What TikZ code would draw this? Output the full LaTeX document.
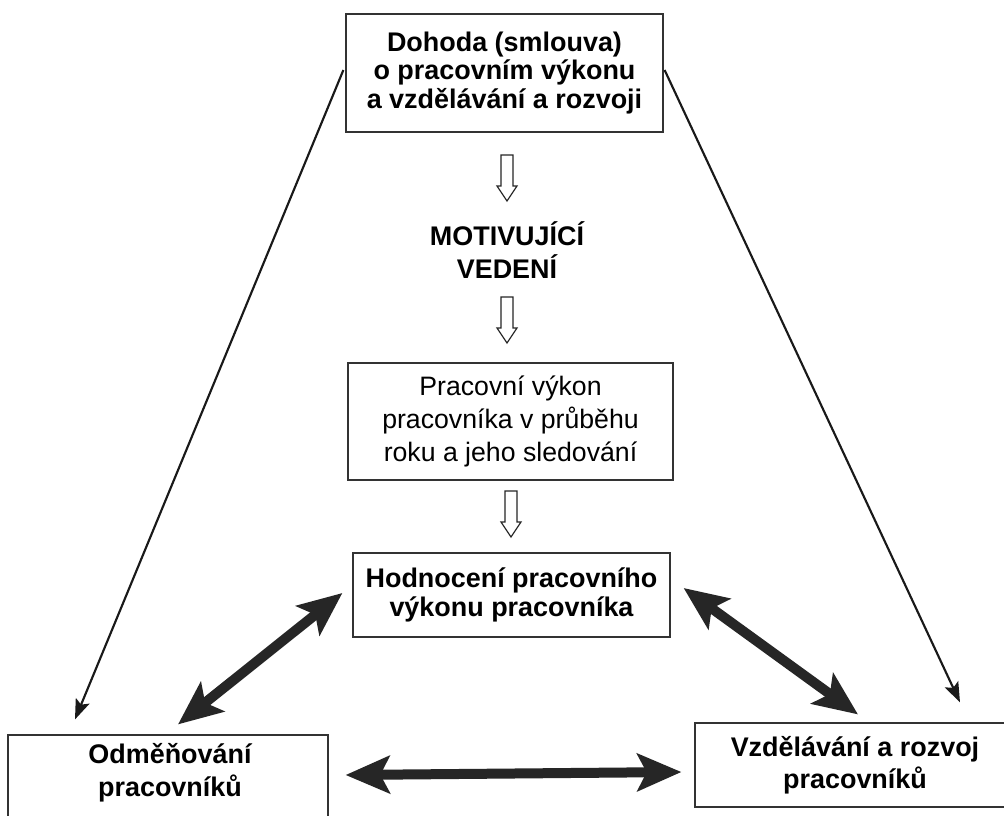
\documentclass[tikz,border=0pt]{standalone}
\usepackage{fontspec}
\setmainfont{Liberation Sans}
\usetikzlibrary{arrows.meta,calc}
\def\pxu{0.75pt}
\tikzset{
  box/.style={draw=black!80, line width=0.9pt, inner sep=0pt, align=center},
  btext/.style={font=\bfseries\fontsize{20.2}{21.5}\selectfont, align=center, inner sep=0pt},
  rtext/.style={font=\fontsize{20}{24.7}\selectfont, align=center, inner sep=0pt},
  thinarrow/.style={draw=black!90, line width=1.6pt, -{Stealth[length=15pt,width=11pt,inset=3pt]}},
  thickarrow/.style={draw=black!85, line width=7.5pt, {Stealth[length=33pt,width=28pt,inset=7pt]}-{Stealth[length=33pt,width=28pt,inset=7pt]}},
  openarr/.pic={\draw[draw=black!85, line width=0.9pt, line join=miter]
     (-6,-23) -- (6,-23) -- (6,8) -- (10,8) -- (0,23) -- (-10,8) -- (-6,8) -- cycle;}
}
\begin{document}
\begin{tikzpicture}[x=0.75pt,y=-0.75pt]
\clip (0,0) rectangle (1004,815);
\fill[white] (0,0) rectangle (1004,815);
% boxes
\node[box, btext, minimum width=317*\pxu, minimum height=118*\pxu] (top) at (504.5,73)
  {Dohoda (smlouva)\\o pracovním výkonu\\a vzdělávání a rozvoji};
\node[btext, font=\bfseries\fontsize{20.2}{24.7}\selectfont] (mot) at (507,250) {MOTIVUJÍCÍ\\VEDENÍ};
\node[box, rtext, minimum width=325*\pxu, minimum height=117*\pxu] (perf) at (510.5,421.5)
  {Pracovní výkon\\pracovníka v průběhu\\roku a jeho sledování};
\node[box, btext, minimum width=317*\pxu, minimum height=84*\pxu] (hod) at (511.5,595)
  {Hodnocení pracovního\\výkonu pracovníka};
\node[box, minimum width=320*\pxu, minimum height=100*\pxu] (odm) at (168,785) {};
\node[btext, font=\bfseries\fontsize{20.2}{24.5}\selectfont] (odmt) at (170,773) {Odměňování\\pracovníků};
\node[box, btext, font=\bfseries\fontsize{20.2}{24}\selectfont, minimum width=320*\pxu, minimum height=84*\pxu] (vz) at (855,765)
  {Vzdělávání a rozvoj\\pracovníků};
% open arrows
\pic at (507,178) {openarr};
\pic at (507,320) {openarr};
\pic at (511,514) {openarr};
% thin arrows
\draw[thinarrow] ([shift={(-2,-3)}]top.west) -- ([shift={(-93,-15)}]odm.north);
\draw[thinarrow] ([shift={(1,-3)}]top.east) -- ([shift={(105,-20)}]vz.north);
% thick double arrows
\draw[thickarrow] ([shift={(10,-10)}]odm.north) -- ([shift={(-10,-2)}]hod.west);
\draw[thickarrow] ([shift={(13,-7)}]hod.east) -- ([shift={(3,-8)}]vz.north);
\draw[thickarrow] ([shift={(17,-10)}]odm.east) -- ([shift={(-13,7)}]vz.west);
\end{tikzpicture}
\end{document}
